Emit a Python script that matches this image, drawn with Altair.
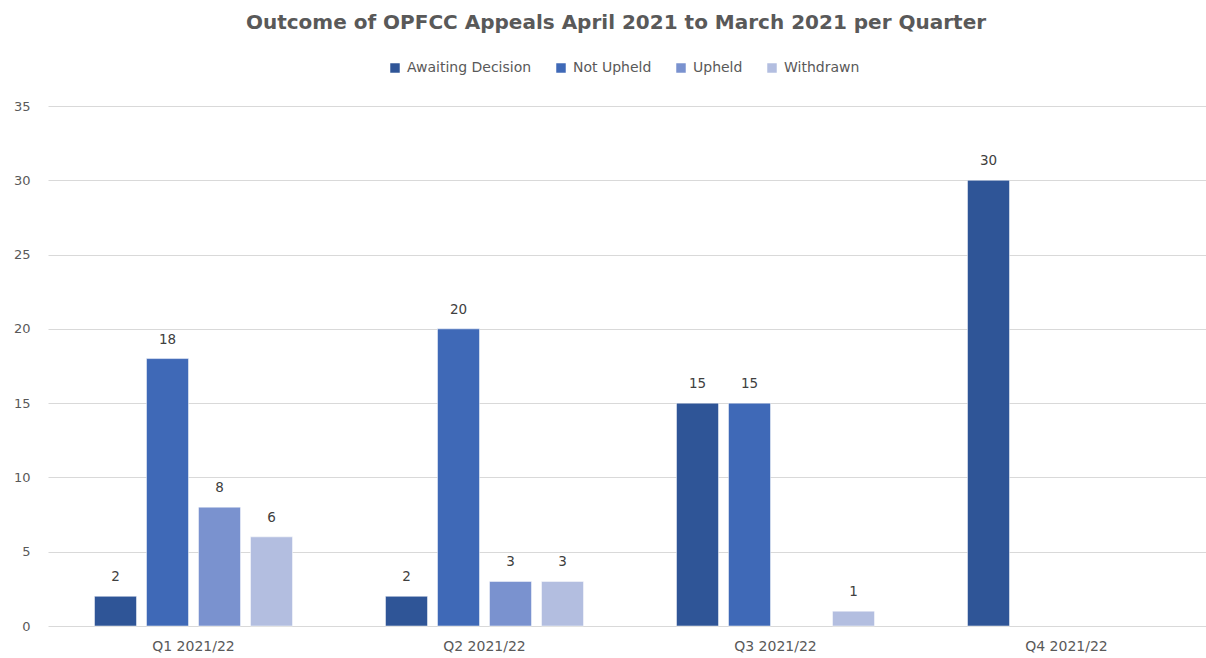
import altair as alt
import pandas as pd

quarters = ["Q1 2021/22", "Q2 2021/22", "Q3 2021/22", "Q4 2021/22"]
series = ["Awaiting Decision", "Not Upheld", "Upheld", "Withdrawn"]
awaiting = [2, 2, 15, 30]
not_upheld = [18, 20, 15, None]
upheld = [8, 3, None, None]
withdrawn = [6, 3, 1, None]
colors = ["#2F5597", "#3F69B7", "#7A92CF", "#B3BEE0"]

rows = []
for s, vals in zip(series, [awaiting, not_upheld, upheld, withdrawn]):
    for q, v in zip(quarters, vals):
        if v is not None:
            rows.append({"Quarter": q, "Series": s, "Value": v})
df = pd.DataFrame(rows)

font = "DejaVu Sans"
grey = "#595959"

base = alt.Chart(df).encode(
    x=alt.X("Quarter:N", sort=quarters,
            scale=alt.Scale(domain=quarters, paddingInner=0, paddingOuter=0, range=[0, 1164]),
            axis=alt.Axis(title=None, labelAngle=0, domain=False, ticks=False, grid=False,
                          labelColor=grey, labelFontSize=14, labelFont=font,
                          labelPadding=13)),
    xOffset=alt.XOffset("Series:N",
                        scale=alt.Scale(domain=series, paddingInner=0.192, paddingOuter=0.894)),
)

yaxis = alt.Axis(title=None, values=[0, 5, 10, 15, 20, 25, 30, 35],
                 domain=False, ticks=False, gridColor="#D9D9D9",
                 labelColor=grey, labelFontSize=13, labelFont=font,
                 labelPadding=18)

bars = base.mark_bar(stroke="white", strokeWidth=0.5).encode(
    y=alt.Y("Value:Q", scale=alt.Scale(domain=[0, 35]), axis=yaxis),
    color=alt.Color("Series:N", scale=alt.Scale(domain=series, range=colors),
                    legend=alt.Legend(title=None, orient="none", direction="horizontal",
                                      legendX=340, legendY=-45, padding=0,
                                      symbolType="square", symbolSize=90,
                                      symbolStrokeWidth=0, labelOffset=5,
                                      labelFontSize=14, labelFont=font, labelColor=grey,
                                      columnPadding=22)),
)

labels = base.mark_text(dy=-19, fontSize=13.5, font=font, color="#404040").encode(
    y=alt.Y("Value:Q", scale=alt.Scale(domain=[0, 35]), axis=yaxis),
    text=alt.Text("Value:Q"),
)

chart = (bars + labels).properties(
    width=1158, height=520,
    background="white",
    title=alt.TitleParams("Outcome of OPFCC Appeals April 2021 to March 2021 per Quarter",
                          font=font, fontSize=20, fontWeight="bold", color=grey,
                          anchor="middle", offset=28, dx=-11),
    padding={"left": 48, "top": 106, "right": 0, "bottom": 32},
    autosize=alt.AutoSizeParams(type="none"),
).configure_view(stroke="transparent", strokeWidth=0).configure_axis(domain=False)

chart.save("out.html", embed_options={"renderer": "svg", "actions": False})
